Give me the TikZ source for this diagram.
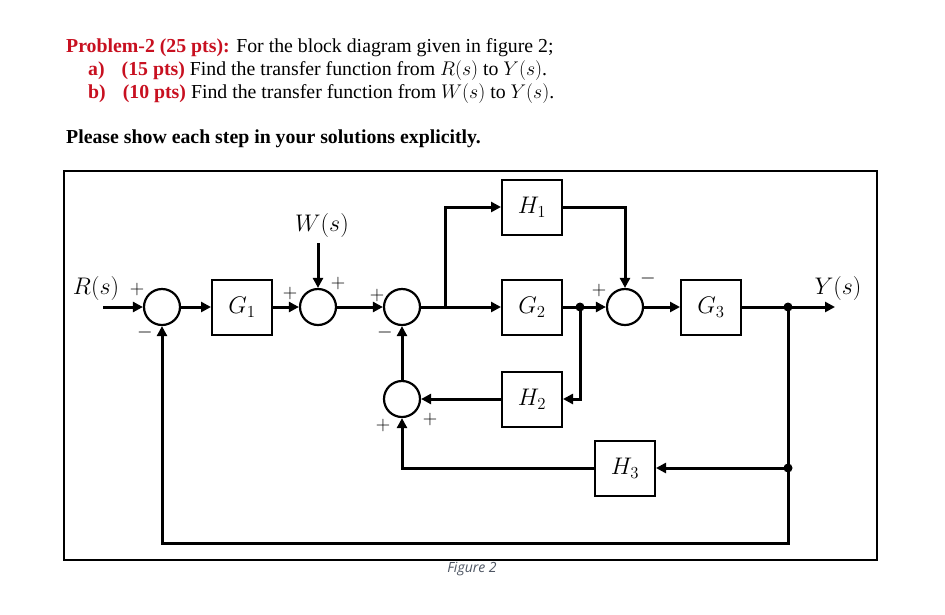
\documentclass[tikz,border=0pt]{standalone}
\usepackage{fix-cm}
\usepackage{fontspec}
\setmainfont{Liberation Serif}
\newfontfamily\capfont{Open Sans}
\usetikzlibrary{arrows.meta}
\definecolor{probred}{RGB}{200,16,32}
\definecolor{capgray}{RGB}{78,86,99}
\begin{document}
\begin{tikzpicture}[x=1pt,y=-1pt,
  blk/.style={draw,line width=2pt,minimum width=60pt,minimum height=55pt,inner sep=0pt,font=\fontsize{24}{26}\selectfont},
  sumn/.style={draw,circle,line width=2.2pt,minimum size=36pt,inner sep=0pt},
  arr/.style={line width=3pt,-{Triangle[length=10pt,width=10pt]}},
  sig/.style={inner sep=0pt,font=\fontsize{20}{22}\selectfont},
  lab/.style={inner sep=0pt,font=\fontsize{24}{26}\selectfont},
  hdr/.style={anchor=base west,inner sep=0pt,font=\fontsize{19.8}{23}\selectfont},
  dot/.style={circle,fill,inner sep=0pt,minimum size=9pt}]
\path[fill=white,use as bounding box] (0,0) rectangle (945,614);
% header text
\node[hdr] (t1) at (66,52) {\textcolor{probred}{\textbf{Problem-2 (25 pts):}} For the block diagram given in figure 2;};
\node[hdr] (t2) at (88,75) {\textcolor{probred}{\textbf{a)\hspace{17pt}(15 pts)}} Find the transfer function from $R(s)$ to $Y(s)$.};
\node[hdr] (t3) at (88,98) {\textcolor{probred}{\textbf{b)\hspace{17pt}(10 pts)}} Find the transfer function from $W(s)$ to $Y(s)$.};
\node[hdr] (t4) at (66,143) {\textbf{Please show each step in your solutions explicitly.}};
% frame
\node[draw,line width=1.3pt,minimum width=813pt,minimum height=389pt,inner sep=0pt] (frame) at (470.5,365.5) {};
\node[inner sep=0pt,font=\capfont\itshape\fontsize{14}{16}\selectfont,text=capgray] (cap) at (472,569) {Figure 2};
% nodes
\node[sumn] (s1) at (162,307) {};
\node[blk] (g1) at (242,307) {$G_1$};
\node[sumn] (s2) at (318,307) {};
\node[sumn] (s3) at (402,307) {};
\coordinate (b1) at (445,307);
\node[blk] (h1) at (532,207) {$H_1$};
\node[blk] (g2) at (532,307) {$G_2$};
\coordinate (b2) at (580,307);
\node[sumn] (s4) at (625,307) {};
\node[blk] (g3) at (711,307) {$G_3$};
\coordinate (b3) at (788,307);
\coordinate (yout) at (835,307);
\coordinate (rin) at (103,307);
\node[lab] (rl) at (96,288) {$R(s)$};
\node[lab] (yl) at (838,288) {$Y(s)$};
\node[lab] (wl) at (322,225) {$W(s)$};
\coordinate (win) at (318,243);
\node[blk] (h2) at (532,399) {$H_2$};
\node[sumn] (s5) at (402,399) {};
\node[blk] (h3) at (625,468) {$H_3$};
\coordinate (b4) at (788,468);
\coordinate (bot) at (788,543);
% connectors
\draw[arr] (rin) -- (s1);
\draw[arr] (s1) -- (g1);
\draw[arr] (g1) -- (s2);
\draw[arr] (win) -- (s2);
\draw[arr] (s2) -- (s3);
\draw[arr] (s3) -- (g2);
\draw[arr] (b1) |- (h1);
\draw[arr] (h1) -| (s4);
\draw[arr] (g2) -- (s4);
\draw[arr] (s4) -- (g3);
\draw[arr] (g3) -- (yout);
\draw[arr] (b2) |- (h2);
\draw[arr] (h2) -- (s5);
\draw[arr] (b3) -- (bot) -| (s1);
\draw[arr] (b4) -- (h3);
\draw[arr] (h3) -| (s5);
\draw[arr] (s5) -- (s3);
\node[dot] (d2) at (b2) {};
\node[dot] (d3) at (b3) {};
\node[dot] (d4) at (b4) {};
% signs
\node[sig] (p1) at (137,289) {$+$};
\node[sig] (m1) at (145,332) {$-$};
\node[sig] (p2a) at (290,293) {$+$};
\node[sig] (p2b) at (338,283) {$+$};
\node[sig] (p3) at (377,295) {$+$};
\node[sig] (m3) at (385,332) {$-$};
\node[sig] (p4) at (599,290) {$+$};
\node[sig] (m4) at (648,278) {$-$};
\node[sig] (p5a) at (383,425) {$+$};
\node[sig] (p5b) at (430,419) {$+$};
\end{tikzpicture}
\end{document}
